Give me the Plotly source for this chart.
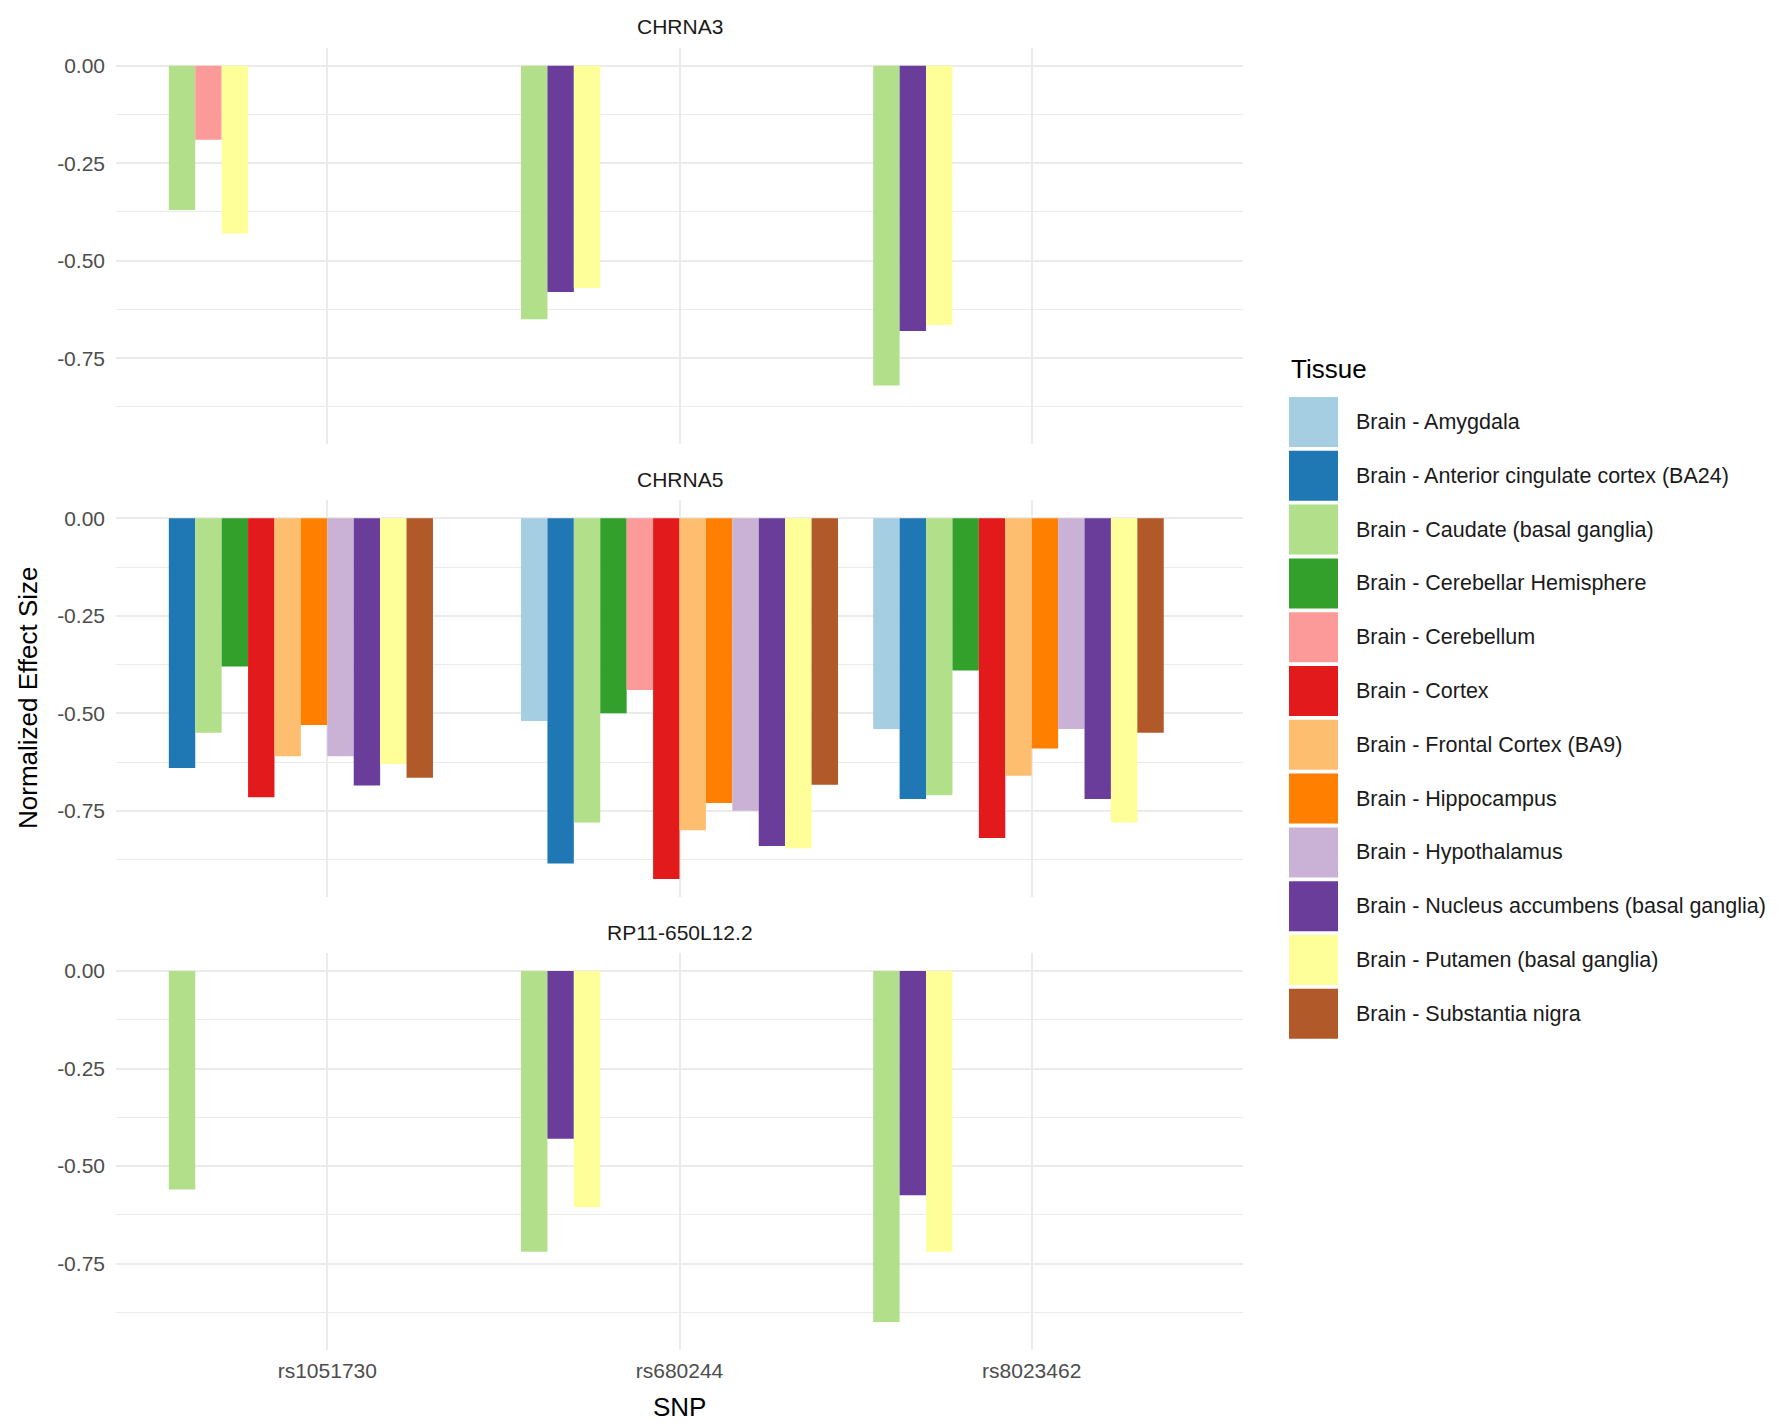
import plotly.graph_objects as go

# ---------------- data ----------------
snps = ["rs1051730", "rs680244", "rs8023462"]
genes = ["CHRNA3", "CHRNA5", "RP11-650L12.2"]
tissues = [
    "Brain - Amygdala",
    "Brain - Anterior cingulate cortex (BA24)",
    "Brain - Caudate (basal ganglia)",
    "Brain - Cerebellar Hemisphere",
    "Brain - Cerebellum",
    "Brain - Cortex",
    "Brain - Frontal Cortex (BA9)",
    "Brain - Hippocampus",
    "Brain - Hypothalamus",
    "Brain - Nucleus accumbens (basal ganglia)",
    "Brain - Putamen (basal ganglia)",
    "Brain - Substantia nigra",
]
colors = ["#A6CEE3", "#1F78B4", "#B2DF8A", "#33A02C", "#FB9A99", "#E31A1C",
          "#FDBF6F", "#FF7F00", "#CAB2D6", "#6A3D9A", "#FFFF99", "#B15928"]

y_tick_vals = [0, -0.25, -0.5, -0.75]
y_tick_text = ["0.00", "-0.25", "-0.50", "-0.75"]
y_minor_vals = [-0.125, -0.375, -0.625, -0.875]

# values per tissue (order of `tissues`), None = not present
chrna3_rs1051730 = [None, None, -0.37, None, -0.19, None, None, None, None, None, -0.43, None]
chrna3_rs680244 = [None, None, -0.65, None, None, None, None, None, None, -0.58, -0.57, None]
chrna3_rs8023462 = [None, None, -0.82, None, None, None, None, None, None, -0.68, -0.665, None]

chrna5_rs1051730 = [None, -0.64, -0.55, -0.38, None, -0.715, -0.61, -0.53, -0.61, -0.685, -0.63, -0.665]
chrna5_rs680244 = [-0.52, -0.885, -0.78, -0.50, -0.44, -0.925, -0.80, -0.73, -0.75, -0.84, -0.846, -0.683]
chrna5_rs8023462 = [-0.54, -0.72, -0.71, -0.39, None, -0.82, -0.66, -0.59, -0.54, -0.72, -0.78, -0.55]

rp11_rs1051730 = [None, None, -0.56, None, None, None, None, None, None, None, None, None]
rp11_rs680244 = [None, None, -0.72, None, None, None, None, None, None, -0.43, -0.606, None]
rp11_rs8023462 = [None, None, -0.90, None, None, None, None, None, None, -0.575, -0.72, None]

gene_values = [
    [chrna3_rs1051730, chrna3_rs680244, chrna3_rs8023462],
    [chrna5_rs1051730, chrna5_rs680244, chrna5_rs8023462],
    [rp11_rs1051730, rp11_rs680244, rp11_rs8023462],
]

# ---------------- layout constants ----------------
PAGE_W, PAGE_H = 1781, 1426
OFF = 8  # default page body margin
W, H = PAGE_W - OFF - 2, PAGE_H - OFF - 2
FONT = "Liberation Sans"


def fx(p):
    return (p - OFF) / W


def fy(p):
    return 1 - (p - OFF) / H


x_domain = [fx(116), fx(1243)]
panel_px = [(47.8, 444.4), (500.4, 897.0), (953.1, 1349.7)]  # top, bottom (page px)
y_domains = [[fy(b), fy(t)] for t, b in panel_px]
y_range = [-0.971, 0.046]
dodge = 0.9
bar_w = dodge / len(tissues)
grid = "#EBEBEB"

fig = go.Figure()

for r, vals_by_snp in enumerate(gene_values):
    xa = "x" if r == 0 else f"x{r + 1}"
    ya = "y" if r == 0 else f"y{r + 1}"
    for t, tissue in enumerate(tissues):
        xs, ys = [], []
        for j, vals in enumerate(vals_by_snp):
            if vals[t] is None:
                continue
            slot = sum(v is not None for v in vals[:t])
            xs.append((j + 1) - dodge / 2 + (slot + 0.5) * bar_w)
            ys.append(vals[t])
        if xs:
            fig.add_trace(go.Bar(
                x=xs, y=ys, width=bar_w, name=tissue,
                marker=dict(color=colors[t], line=dict(width=0)),
                xaxis=xa, yaxis=ya, showlegend=False,
                hovertemplate=f"{genes[r]}<br>{tissue}<br>%{{y:.2f}}<extra></extra>",
            ))

layout = dict(
    width=W, height=H,
    margin=dict(l=0, r=0, t=0, b=0),
    paper_bgcolor="white", plot_bgcolor="white",
    barmode="overlay",
    font=dict(family=FONT, color="#1A1A1A"),
    showlegend=False,
)

for r in range(3):
    xk = "xaxis" if r == 0 else f"xaxis{r + 1}"
    yk = "yaxis" if r == 0 else f"yaxis{r + 1}"
    ya = "y" if r == 0 else f"y{r + 1}"
    xa = "x" if r == 0 else f"x{r + 1}"
    layout[xk] = dict(
        domain=x_domain, anchor=ya, range=[0.4, 3.6],
        tickmode="array", tickvals=[1, 2, 3], ticktext=snps,
        showticklabels=(r == 2), ticks="", ticklabelstandoff=6,
        tickfont=dict(size=21, color="#4D4D4D", family=FONT),
        showgrid=True, gridcolor=grid, gridwidth=2,
        zeroline=False, showline=False, fixedrange=True,
    )
    layout[yk] = dict(
        domain=y_domains[r], anchor=xa, range=y_range,
        tickmode="array", tickvals=y_tick_vals, ticktext=y_tick_text,
        ticks="", ticklabelstandoff=10,
        tickfont=dict(size=21, color="#4D4D4D", family=FONT),
        showgrid=True, gridcolor=grid, gridwidth=2,
        minor=dict(tickmode="array", tickvals=y_minor_vals, showgrid=True,
                   gridcolor=grid, gridwidth=1),
        zeroline=False, showline=False, fixedrange=True,
    )

annotations = []
# strip titles
for r, g in enumerate(genes):
    top_px = panel_px[r][0]
    annotations.append(dict(
        text=g, xref="paper", yref="paper",
        x=(x_domain[0] + x_domain[1]) / 2, y=fy(top_px - 21),
        xanchor="center", yanchor="middle", showarrow=False,
        font=dict(size=21, color="#1A1A1A", family=FONT),
    ))
# axis titles
annotations.append(dict(
    text="SNP", xref="paper", yref="paper",
    x=(x_domain[0] + x_domain[1]) / 2, y=fy(1407),
    xanchor="center", yanchor="middle", showarrow=False,
    font=dict(size=26, color="#000000", family=FONT),
))
annotations.append(dict(
    text="Normalized Effect Size", xref="paper", yref="paper",
    x=fx(28), y=fy(698), textangle=-90,
    xanchor="center", yanchor="middle", showarrow=False,
    font=dict(size=26, color="#000000", family=FONT),
))

# legend (ggplot-style keys)
shapes = []
annotations.append(dict(
    text="Tissue", xref="paper", yref="paper",
    x=fx(1289), y=fy(369), xanchor="left", yanchor="middle",
    showarrow=False, font=dict(size=26, color="#000000", family=FONT),
))
key_top, key_step, key_w, key_h = 397, 53.8, 49, 50
for k, tissue in enumerate(tissues):
    top = key_top + k * key_step
    shapes.append(dict(
        type="rect", xref="paper", yref="paper",
        x0=fx(1289), x1=fx(1289 + key_w),
        y0=fy(top + key_h), y1=fy(top),
        fillcolor=colors[k], line=dict(width=0), layer="above",
    ))
    annotations.append(dict(
        text=tissue, xref="paper", yref="paper",
        x=fx(1354), y=fy(top + key_h / 2),
        xanchor="left", yanchor="middle", showarrow=False,
        font=dict(size=21.5, color="#1A1A1A", family=FONT),
    ))

layout["annotations"] = annotations
layout["shapes"] = shapes
fig.update_layout(**layout)

fig.write_html("out.html")
